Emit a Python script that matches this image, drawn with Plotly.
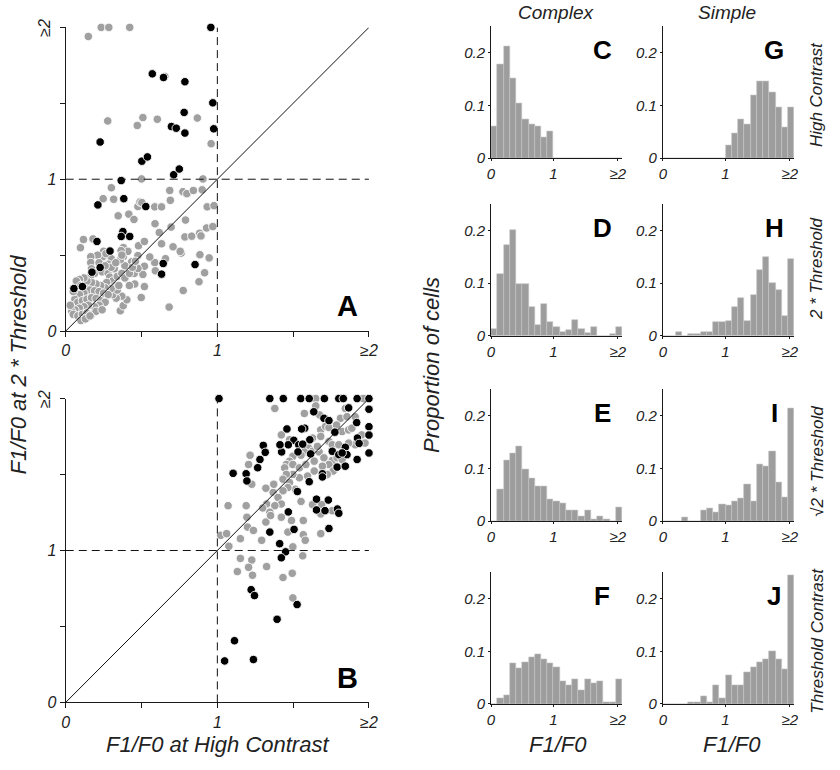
import plotly.graph_objects as go

W, H = 840, 770
FONT = "Arial, 'Liberation Sans', Helvetica, sans-serif"

# ---------------- scatter data (F1/F0 values) ----------------
A_GRAY = [
    (0.149, 1.94), (0.234, 2.0), (0.284, 2.0), (0.422, 2.0), (0.277, 1.384), (0.509, 1.406),
    (0.472, 1.354), (0.604, 1.395), (0.868, 1.403), (0.959, 1.234), (0.654, 1.677),
    (0.500, 1.002), (0.905, 1.002), (0.301, 0.944), (0.247, 0.872), (0.316, 0.868), (0.346, 0.759),
    (0.416, 0.770), (0.450, 0.735), (0.476, 0.820), (0.490, 0.850), (0.502, 0.846), (0.587, 0.818),
    (0.632, 0.818), (0.686, 0.926), (0.690, 0.861), (0.773, 0.918), (0.799, 0.905), (0.842, 0.926),
    (0.900, 0.930), (0.933, 0.818), (0.978, 0.826),
    (0.589, 0.707), (0.617, 0.649), (0.632, 0.575), (0.695, 0.685), (0.790, 0.731), (0.786, 0.620),
    (0.831, 0.625), (0.883, 0.644), (0.892, 0.627), (0.929, 0.679), (0.970, 0.688), (0.708, 0.555),
    (0.762, 0.514), (0.885, 0.503), (0.480, 0.562), (0.519, 0.590), (0.117, 0.603), (0.097, 0.549),
    (0.180, 0.607), (0.658, 0.477), (0.755, 0.525),
    (0.946, 0.482), (0.916, 0.384), (0.879, 0.325), (0.775, 0.267), (0.682, 0.158), (0.587, 0.451),
    (0.591, 0.397), (0.554, 0.488), (0.519, 0.427), (0.509, 0.373), (0.519, 0.293), (0.498, 0.221),
    (0.452, 0.380), (0.476, 0.412), (0.455, 0.310), (0.476, 0.497), (0.435, 0.456),
    (0.380, 0.550), (0.400, 0.520), (0.380, 0.490), (0.410, 0.525), (0.390, 0.430), (0.365, 0.530),
    (0.360, 0.470), (0.370, 0.500),
    (0.360, 0.134), (0.379, 0.167), (0.403, 0.206), (0.370, 0.230), (0.333, 0.217), (0.310, 0.240),
    (0.301, 0.477), (0.250, 0.525), (0.245, 0.490), (0.265, 0.510), (0.210, 0.500), (0.165, 0.490),
    (0.165, 0.451), (0.170, 0.410), (0.190, 0.380), (0.160, 0.355), (0.240, 0.390), (0.280, 0.380),
    (0.290, 0.355), (0.310, 0.330), (0.270, 0.320), (0.330, 0.300), (0.340, 0.270), (0.300, 0.280),
    (0.260, 0.285), (0.230, 0.300), (0.200, 0.310), (0.170, 0.320), (0.140, 0.330), (0.120, 0.350),
    (0.090, 0.340), (0.070, 0.330), (0.100, 0.300), (0.130, 0.280), (0.160, 0.270), (0.190, 0.265),
    (0.220, 0.260), (0.250, 0.250), (0.280, 0.240), (0.120, 0.250), (0.090, 0.240), (0.060, 0.210),
    (0.080, 0.190), (0.110, 0.200), (0.140, 0.210), (0.170, 0.220), (0.200, 0.215), (0.230, 0.200),
    (0.260, 0.190), (0.220, 0.170), (0.190, 0.160), (0.150, 0.170), (0.120, 0.160), (0.090, 0.150),
    (0.060, 0.140), (0.040, 0.130), (0.050, 0.110), (0.080, 0.100), (0.110, 0.110), (0.140, 0.120),
    (0.170, 0.110), (0.200, 0.130), (0.240, 0.140), (0.100, 0.070), (0.130, 0.080), (0.160, 0.100),
    (0.030, 0.170), (0.050, 0.260), (0.280, 0.440), (0.320, 0.410), (0.340, 0.360), (0.350, 0.300),
    (0.300, 0.420), (0.220, 0.450), (0.260, 0.430), (0.330, 0.450), (0.370, 0.380), (0.390, 0.350),
    (0.420, 0.380), (0.440, 0.420), (0.420, 0.300), (0.460, 0.460),
]
A_BLACK = [
    (0.957, 2.0), (0.571, 1.694), (0.645, 1.670), (0.786, 1.642), (0.970, 1.503), (0.781, 1.440),
    (0.697, 1.347), (0.729, 1.336), (0.786, 1.304), (0.976, 1.332), (0.227, 1.245), (0.502, 1.119),
    (0.539, 1.147), (0.712, 1.030), (0.749, 1.067), (0.366, 0.991), (0.383, 0.872), (0.212, 0.831),
    (0.528, 0.820), (0.206, 0.590), (0.292, 0.527), (0.377, 0.655), (0.366, 0.623), (0.422, 0.623),
    (0.173, 0.388), (0.227, 0.419), (0.054, 0.280), (0.110, 0.293), (0.643, 0.445), (0.632, 0.375),
    (0.853, 0.438),
]
B_GRAY = [
    (1.602, 1.675), (1.628, 1.653), (1.671, 1.649), (1.574, 1.649), (1.552, 1.627), (1.498, 1.620),
    (1.476, 1.588), (1.455, 1.566), (1.444, 1.544), (1.498, 1.566), (1.541, 1.544), (1.584, 1.566),
    (1.639, 1.588), (1.703, 1.610), (1.758, 1.592), (1.790, 1.610), (1.736, 1.566), (1.693, 1.555),
    (1.639, 1.523), (1.595, 1.490), (1.541, 1.479), (1.498, 1.501), (1.455, 1.501), (1.433, 1.469),
    (1.476, 1.447), (1.515, 1.403), (1.465, 1.414), (1.433, 1.393), (1.368, 1.382), (1.372, 1.436),
    (1.400, 1.349), (1.325, 1.306), (1.422, 1.306), (1.379, 1.295), (1.422, 1.219), (1.346, 1.252),
    (1.299, 1.280), (1.552, 1.323), (1.628, 1.302), (1.688, 1.302), (1.758, 1.262), (1.682, 1.241),
    (1.567, 1.197), (1.489, 1.197), (1.682, 1.111), (1.567, 1.104), (1.580, 1.067), (1.498, 1.024),
    (1.465, 1.121), (1.563, 0.965), (1.494, 0.850), (1.433, 0.822), (1.498, 0.688), (1.325, 0.894),
    (1.227, 0.937), (1.206, 0.889), (1.232, 0.837), (1.152, 0.948), (1.132, 0.861), (1.076, 1.028),
    (1.022, 1.100), (1.061, 1.111), (1.071, 1.295), (1.190, 1.295), (1.195, 1.219), (1.199, 1.154),
    (1.238, 1.132), (1.292, 1.067), (1.152, 1.078), (1.216, 1.627), (1.206, 1.566), (1.227, 1.436),
    (1.320, 1.410), (1.320, 1.187), (1.351, 1.230), (1.379, 1.935), (1.649, 2.0), (1.963, 2.0),
    (1.649, 1.952), (1.574, 1.902), (1.675, 1.892), (1.844, 1.935), (1.812, 1.870), (1.855, 1.881),
    (1.909, 1.881), (1.682, 1.794), (1.714, 1.816), (1.736, 1.809), (1.786, 1.826), (1.823, 1.783),
    (1.866, 1.794), (1.887, 1.805), (1.952, 1.761), (1.974, 1.707), (1.909, 1.696), (1.628, 1.740),
    (1.682, 1.751), (1.736, 1.718), (1.758, 1.696), (1.660, 1.685), (1.422, 1.761), (1.476, 1.729),
    (1.764, 1.523), (1.725, 1.501), (1.866, 1.707), (1.801, 1.696), (1.823, 1.599),
]
B_BLACK = [
    (1.011, 2.0), (1.346, 2.0), (1.435, 2.0), (1.550, 2.0), (1.606, 2.0), (1.706, 2.0), (1.801, 2.0),
    (1.831, 2.0), (1.922, 2.0), (2.0, 2.0), (1.866, 1.939), (2.0, 1.930), (1.636, 1.913), (1.703, 1.870),
    (1.736, 1.855), (1.919, 1.842), (1.459, 1.800), (1.576, 1.805), (1.556, 1.800), (2.0, 1.815),
    (1.775, 1.779), (2.0, 1.760), (1.924, 1.740), (1.935, 1.705), (1.610, 1.729), (1.504, 1.725),
    (1.468, 1.696), (1.424, 1.649), (1.413, 1.696), (1.537, 1.696), (1.563, 1.700), (1.303, 1.692),
    (1.316, 1.646), (1.281, 1.599), (1.190, 1.505), (1.195, 1.458), (1.104, 1.508), (1.266, 1.545),
    (1.532, 1.649), (1.615, 1.636), (1.758, 1.653), (1.801, 1.631), (1.844, 1.679), (1.855, 1.631),
    (1.823, 1.642), (2.0, 1.642), (1.922, 1.599), (1.790, 1.549), (1.844, 1.555), (1.693, 1.505),
    (1.693, 1.484), (1.606, 1.453), (1.528, 1.388), (1.654, 1.338), (1.732, 1.332), (1.654, 1.267),
    (1.710, 1.262), (1.792, 1.273), (1.801, 1.245), (1.468, 1.254), (1.346, 1.121), (1.506, 1.139),
    (1.736, 1.145), (1.411, 1.045), (1.450, 0.991), (1.422, 0.952), (1.223, 0.742), (1.245, 0.703),
    (1.526, 0.644), (1.394, 0.547), (1.113, 0.406), (1.048, 0.273), (1.238, 0.282),
]

# ---------------- histogram data (proportion of cells per 0.1 bin, last bin = >=2) ----------------
BIN_LEFT = [0.0, 0.1, 0.2, 0.3, 0.4, 0.5, 0.6, 0.7, 0.8, 0.9, 1.0,
            1.1, 1.2, 1.3, 1.4, 1.5, 1.6, 1.7, 1.8, 1.9, 2.0]
C_COMPLEX_HIGH = [0.061, 0.177, 0.212, 0.152, 0.104, 0.073, 0.064, 0.061, 0.039, 0.051, 0,
                  0, 0, 0, 0, 0, 0, 0, 0, 0, 0]
G_SIMPLE_HIGH = [0, 0, 0, 0, 0, 0, 0, 0, 0, 0, 0.025,
                 0.047, 0.074, 0.064, 0.120, 0.146, 0.146, 0.125, 0.097, 0.059, 0.096]
D_COMPLEX_2T = [0.012, 0.118, 0.173, 0.200, 0.099, 0.099, 0.055, 0.021, 0.061, 0.026, 0.017,
                0.008, 0.010, 0.030, 0.012, 0.005, 0.016, 0, 0, 0.004, 0.016]
H_SIMPLE_2T = [0, 0, 0.008, 0, 0.003, 0.003, 0.007, 0.007, 0.026, 0.026, 0.028,
               0.055, 0.072, 0.028, 0.077, 0.124, 0.150, 0.100, 0.087, 0.037, 0.145]
E_COMPLEX_R2T = [0, 0.060, 0.116, 0.128, 0.142, 0.099, 0.082, 0.066, 0.066, 0.041, 0.038,
                 0.034, 0.021, 0.021, 0.009, 0.021, 0.004, 0.009, 0.004, 0, 0.026]
I_SIMPLE_R2T = [0, 0, 0, 0.007, 0, 0, 0.020, 0.024, 0.017, 0.032, 0.030,
                0.037, 0.044, 0.070, 0.037, 0.107, 0.104, 0.132, 0.074, 0.045, 0.214]
F_COMPLEX_THR = [0, 0.010, 0.017, 0.077, 0.068, 0.080, 0.089, 0.094, 0.085, 0.078, 0.069,
                 0.044, 0.035, 0.047, 0.027, 0.047, 0.040, 0.043, 0.003, 0.003, 0.047]
J_SIMPLE_THR = [0, 0, 0, 0, 0.003, 0.003, 0.015, 0.003, 0.036, 0.011, 0.055,
                0.035, 0.035, 0.060, 0.070, 0.080, 0.085, 0.100, 0.085, 0.065, 0.245]

COLUMN_TITLES = ["Complex", "Simple"]
ROW_TITLES = ["High Contrast", "2 * Threshold", "\u221a2 * Threshold", "Threshold Contrast"]
SCATTER_TICKS = [0, 0.5, 1, 1.5, 2]
SCATTER_X_LABELS = ["0", "", "1", "", "\u22652"]
SCATTER_Y_LABELS = ["0", "", "1", "", ""]
HIST_X_TICKS = [0, 1, 2.03]
HIST_X_LABELS = ["0", "1", "\u22652"]
HIST_Y_TICKS = [0, 0.1, 0.2]
HIST_Y_LABELS = ["0", "0.1", "0.2"]


def fx(px):
    return px / W


def fy(py):
    return 1 - py / H


GRAY = "#a0a0a0"
AXC = "#1a1a1a"
fig = go.Figure()

axis_common = dict(showline=True, linecolor=AXC, linewidth=1, ticks="outside", tickcolor=AXC,
                   showgrid=False, zeroline=False, mirror=False, fixedrange=True)

# ---------------- scatter panels ----------------
scatter_panels = [
    ("x", "y", A_GRAY, A_BLACK, (62.7, 370.7), (27.7, 335.0), "A"),
    ("x2", "y2", B_GRAY, B_BLACK, (62.7, 370.7), (403.3, 710.7), "B"),
]
annotations = []
shapes = []
for i, (xa, ya, gray, black, (x0p, x1p), (ytop, ybot), letter) in enumerate(scatter_panels):
    for pts, col in ((gray, GRAY), (black, "#000000")):
        fig.add_trace(go.Scatter(
            x=[p[0] for p in pts], y=[p[1] for p in pts], mode="markers", xaxis=xa, yaxis=ya,
            cliponaxis=False, showlegend=False, hoverinfo="skip",
            marker=dict(size=8.5, color=col, line=dict(color="white", width=0.9))))
    sfx = "" if i == 0 else str(i + 1)
    fig.layout["xaxis" + sfx] = dict(axis_common, domain=[fx(x0p), fx(x1p)], range=[0, 2], anchor=ya,
                                     tickvals=SCATTER_TICKS, ticktext=SCATTER_X_LABELS, ticklen=5,
                                     tickfont=dict(family=FONT, size=16, color="#222", style="italic"))
    fig.layout["yaxis" + sfx] = dict(axis_common, domain=[fy(ybot), fy(ytop)], range=[0, 2], anchor=xa,
                                     tickvals=SCATTER_TICKS, ticktext=SCATTER_Y_LABELS, ticklen=5,
                                     tickfont=dict(family=FONT, size=16, color="#222", style="italic"))
    shapes += [
        dict(type="line", xref=xa, yref=ya, x0=1, x1=1, y0=0, y1=2,
             line=dict(color="#111", width=1, dash="8px,5px")),
        dict(type="line", xref=xa, yref=ya, x0=0, x1=2, y0=1, y1=1,
             line=dict(color="#111", width=1, dash="8px,5px")),
        dict(type="line", xref=xa, yref=ya, x0=0, x1=2, y0=0, y1=2,
             line=dict(color="#111", width=1)),
    ]
    annotations.append(dict(text="\u22652", xref="paper", yref="paper", x=fx(41), y=fy(ytop),
                            xanchor="center", yanchor="middle", textangle=-90, showarrow=False,
                            font=dict(family=FONT, size=16, color="#222", style="italic")))
    annotations.append(dict(text="<b>%s</b>" % letter, xref="paper", yref="paper",
                            x=fx(349), y=fy(ybot - 25), xanchor="center", yanchor="middle",
                            showarrow=False, font=dict(family=FONT, size=29, color="black")))

# ---------------- histogram panels ----------------
hist_cols = [(494.7, 628.0), (669.3, 802.7)]
hist_rows = [160.0, 339.7, 527.3, 712.3]   # pixel of y=0 baseline
hist_panels = [
    (C_COMPLEX_HIGH, 0, 0, "C"), (G_SIMPLE_HIGH, 1, 0, "G"),
    (D_COMPLEX_2T, 0, 1, "D"), (H_SIMPLE_2T, 1, 1, "H"),
    (E_COMPLEX_R2T, 0, 2, "E"), (I_SIMPLE_R2T, 1, 2, "I"),
    (F_COMPLEX_THR, 0, 3, "F"), (J_SIMPLE_THR, 1, 3, "J"),
]
for k, (vals, c, r, letter) in enumerate(hist_panels):
    n = k + 3
    xa, ya = "x%d" % n, "y%d" % n
    fig.add_trace(go.Bar(x=BIN_LEFT, y=vals, width=0.1, offset=0, xaxis=xa, yaxis=ya,
                         showlegend=False, hoverinfo="skip",
                         marker=dict(color="#9d9d9d", line=dict(color="#c4c4c4", width=0.6))))
    base = hist_rows[r]
    top = base - 133.3
    x0p, x1p = hist_cols[c]
    fig.layout["xaxis%d" % n] = dict(axis_common, domain=[fx(x0p), fx(x1p)], range=[0, 2.1], anchor=ya,
                                     tickvals=HIST_X_TICKS, ticktext=HIST_X_LABELS, ticklen=2,
                                     tickfont=dict(family=FONT, size=15, color="#222", style="italic"))
    fig.layout["yaxis%d" % n] = dict(axis_common, domain=[fy(base), fy(top)], range=[0, 0.25], anchor=xa,
                                     tickvals=HIST_Y_TICKS, ticktext=HIST_Y_LABELS, ticklen=2,
                                     tickfont=dict(family=FONT, size=15, color="#222", style="italic"))
    annotations.append(dict(text="<b>%s</b>" % letter, xref="paper", yref="paper",
                            x=fx(x0p + 113), y=fy(top + 24), xanchor="center", yanchor="middle",
                            showarrow=False, font=dict(family=FONT, size=26, color="black")))

# column titles
for c, t in enumerate(COLUMN_TITLES):
    annotations.append(dict(text=t, xref="paper", yref="paper", x=fx([560.5, 734.0][c]), y=fy(13),
                            xanchor="center", yanchor="middle", showarrow=False,
                            font=dict(family=FONT, size=19, color="#222", style="italic")))
    annotations.append(dict(text="F1/F0", xref="paper", yref="paper", x=fx([563.0, 739.0][c]), y=fy(753),
                            xanchor="center", yanchor="middle", showarrow=False,
                            font=dict(family=FONT, size=22, color="#222", style="italic")))
# row titles
for r, t in enumerate(ROW_TITLES):
    annotations.append(dict(text=t, xref="paper", yref="paper", x=fx(826), y=fy([96, 272, 467, 648][r]),
                            xanchor="center", yanchor="middle", textangle=-90, showarrow=False,
                            font=dict(family=FONT, size=17, color="#222", style="italic")))

annotations += [
    dict(text="Proportion of cells", xref="paper", yref="paper", x=fx(434), y=fy(369),
         xanchor="center", yanchor="middle", textangle=-90, showarrow=False,
         font=dict(family=FONT, size=22, color="#222", style="italic")),
    dict(text="F1/F0 at 2 * Threshold", xref="paper", yref="paper", x=fx(15), y=fy(369),
         xanchor="center", yanchor="middle", textangle=-90, showarrow=False,
         font=dict(family=FONT, size=22, color="#222", style="italic")),
    dict(text="F1/F0 at High Contrast", xref="paper", yref="paper", x=fx(217), y=fy(753),
         xanchor="center", yanchor="middle", showarrow=False,
         font=dict(family=FONT, size=22, color="#222", style="italic")),
]

fig.update_layout(width=W, height=H, margin=dict(l=0, r=0, t=0, b=0), autosize=False,
                  paper_bgcolor="white", plot_bgcolor="white", bargap=0,
                  annotations=annotations, shapes=shapes,
                  font=dict(family=FONT, color="#222"))

fig.write_html("out.html", config={"displayModeBar": False},
               post_script="document.body.style.margin='0';")
